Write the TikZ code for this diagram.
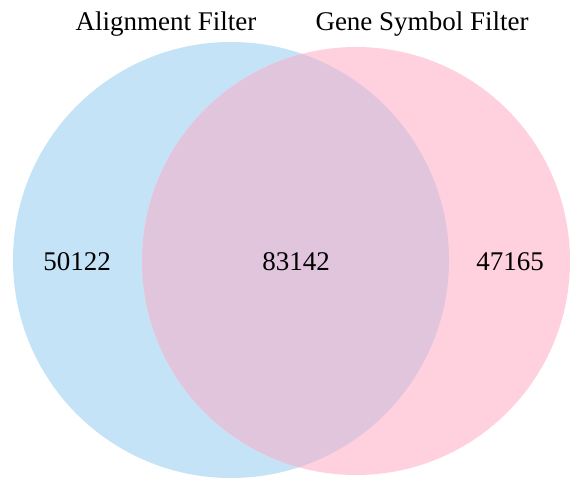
\documentclass[tikz,border=0pt]{standalone}
\usepackage{fontspec}
\setmainfont{Liberation Serif}
\usepackage{tikz}
\definecolor{alignblue}{HTML}{C5E3F6}
\definecolor{genepink}{HTML}{FFD1DF}
\definecolor{overlap}{HTML}{E1C5DC}
\tikzset{setlabel/.style={font=\fontsize{27}{30}\selectfont, inner sep=0pt},
  count/.style={font=\fontsize{27}{30}\selectfont, inner sep=0pt}}

\begin{document}
\begin{tikzpicture}[x=1pt, y=-1pt]
\useasboundingbox (0,0) rectangle (570,478);
% the two sets
\fill[alignblue] (231,260) circle (218);
\fill[genepink] (356,261) circle (214);
\begin{scope}
  \clip (231,260) circle (218);
  \fill[overlap] (356,261) circle (214);
\end{scope}
% titles
\node[setlabel] (align) at (166,24) {Alignment Filter};
\node[setlabel] (gene) at (422,24) {Gene Symbol Filter};
% counts
\node[count] (onlyalign) at (77,262) {50122};
\node[count] (both) at (296,262) {83142};
\node[count] (onlygene) at (510,262) {47165};
\end{tikzpicture}
\end{document}
